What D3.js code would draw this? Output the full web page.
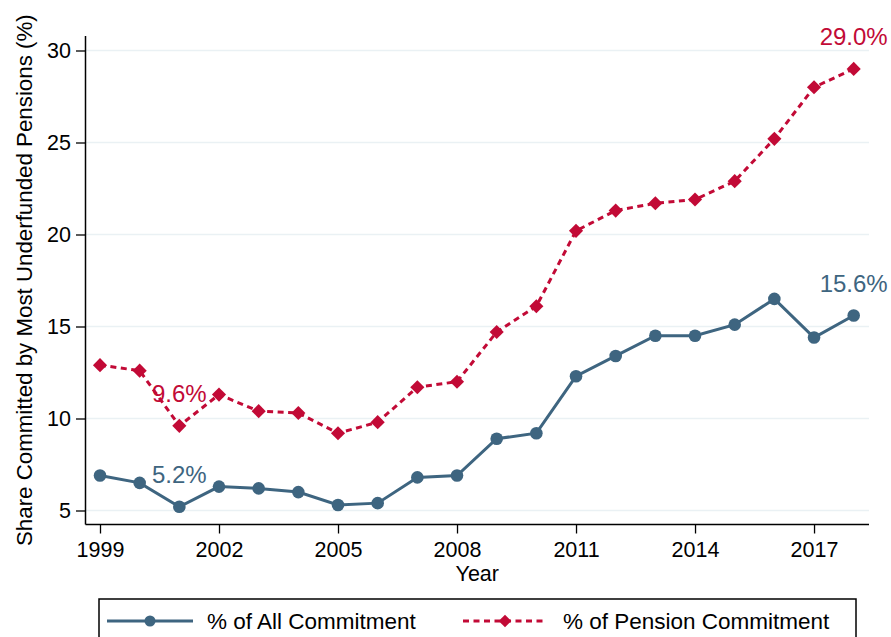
<!DOCTYPE html>
<html>
<head>
<meta charset="utf-8">
<script src="https://cdn.jsdelivr.net/npm/d3@7"></script>
<style>
  body { margin: 0; background: #fff; }
  svg { font-family: "Liberation Sans", Arial, Helvetica, sans-serif; display: block; }
</style>
</head>
<body>
<div id="chart"></div>
<script>
// data
var years = [1999, 2000, 2001, 2002, 2003, 2004, 2005, 2006, 2007, 2008,
             2009, 2010, 2011, 2012, 2013, 2014, 2015, 2016, 2017, 2018];
var allCommit = [6.9, 6.5, 5.2, 6.3, 6.2, 6.0, 5.3, 5.4, 6.8, 6.9,
                 8.9, 9.2, 12.3, 13.4, 14.5, 14.5, 15.1, 16.5, 14.4, 15.6];
var pensionCommit = [12.9, 12.6, 9.6, 11.3, 10.4, 10.3, 9.2, 9.8, 11.7, 12.0,
                     14.7, 16.1, 20.2, 21.3, 21.7, 21.9, 22.9, 25.2, 28.0, 29.0];
var labelYears = [2001, 2018];
var xTicks = [1999, 2002, 2005, 2008, 2011, 2014, 2017];
var yTicks = [5, 10, 15, 20, 25, 30];
var seriesNames = ["% of All Commitment", "% of Pension Commitment"];

var blue = "#3e6580";
var red = "#c20a36";

var svgWidth = 891;
var svgHeight = 637;

// plot region
var plotLeft = 85.5, plotRight = 869, plotTop = 36, plotBottom = 524.5;

var svg = d3.select("#chart")
  .append("svg")
  .attr("width", svgWidth)
  .attr("height", svgHeight);

var x = d3.scaleLinear()
  .domain([1999, 2018])
  .range([100, 853.7]);

var y = d3.scaleLinear()
  .domain([5, 30])
  .range([510.5, 50.5]);

// gridlines
svg.append("g")
  .selectAll("line")
  .data(yTicks)
  .enter()
  .append("line")
  .attr("x1", plotLeft)
  .attr("x2", plotRight)
  .attr("y1", d => y(d))
  .attr("y2", d => y(d))
  .attr("stroke", "#eaf1f4")
  .attr("stroke-width", 1.5);

// axes
var leftAxis = d3.axisLeft(y)
  .tickValues(yTicks)
  .tickSize(9)
  .tickPadding(5);

var yAxisG = svg.append("g")
  .attr("transform", `translate(${plotLeft - 0.5}, 0)`)
  .call(leftAxis);
yAxisG.select(".domain").remove();
yAxisG.selectAll("line").attr("stroke", "#000").attr("stroke-width", 1.3);
yAxisG.selectAll("text")
  .attr("font-size", "21.5px")
  .attr("fill", "#000")
  .attr("font-family", "Liberation Sans, Arial, sans-serif");

var bottomAxis = d3.axisBottom(x)
  .tickValues(xTicks)
  .tickFormat(d3.format("d"))
  .tickSize(9);

var xAxisG = svg.append("g")
  .attr("transform", `translate(0, ${plotBottom})`)
  .call(bottomAxis);
xAxisG.select(".domain").remove();
xAxisG.selectAll("line").attr("stroke", "#000").attr("stroke-width", 1.3);
xAxisG.selectAll("text")
  .attr("y", 32)
  .attr("dy", 0)
  .attr("font-size", "21.5px")
  .attr("fill", "#000")
  .attr("font-family", "Liberation Sans, Arial, sans-serif");

// axis lines
svg.append("line")
  .attr("x1", plotLeft).attr("x2", plotLeft)
  .attr("y1", plotTop).attr("y2", plotBottom)
  .attr("stroke", "#000").attr("stroke-width", 1.5);
svg.append("line")
  .attr("x1", plotLeft).attr("x2", plotRight)
  .attr("y1", plotBottom).attr("y2", plotBottom)
  .attr("stroke", "#000").attr("stroke-width", 1.5);

// axis titles
svg.append("text")
  .attr("transform", "translate(32, 546) rotate(-90)")
  .attr("font-size", "22.3px")
  .text("Share Committed by Most Underfunded Pensions (%)");

svg.append("text")
  .attr("x", (plotLeft + plotRight) / 2)
  .attr("y", 580.5)
  .attr("text-anchor", "middle")
  .attr("font-size", "21.5px")
  .text("Year");

var allData = years.map((yr, i) => ({ year: yr, value: allCommit[i] }));
var pensionData = years.map((yr, i) => ({ year: yr, value: pensionCommit[i] }));

var line = d3.line()
  .x(d => x(d.year))
  .y(d => y(d.value));

// pension series (dashed, diamonds)
svg.append("path")
  .datum(pensionData)
  .attr("d", line)
  .attr("fill", "none")
  .attr("stroke", red)
  .attr("stroke-width", 3)
  .attr("stroke-dasharray", "6,4.5");

var diamond = d3.symbol().type(d3.symbolSquare).size(100);
svg.append("g")
  .selectAll("path")
  .data(pensionData)
  .enter()
  .append("path")
  .attr("d", diamond)
  .attr("transform", d => `translate(${x(d.year)}, ${y(d.value)}) rotate(45)`)
  .attr("fill", red);

// all commitment series (solid, circles)
svg.append("path")
  .datum(allData)
  .attr("d", line)
  .attr("fill", "none")
  .attr("stroke", blue)
  .attr("stroke-width", 3);

svg.append("g")
  .selectAll("circle")
  .data(allData)
  .enter()
  .append("circle")
  .attr("cx", d => x(d.year))
  .attr("cy", d => y(d.value))
  .attr("r", 6.3)
  .attr("fill", blue);

// value labels above selected points
var fmt = d => d3.format(".1f")(d) + "%";
[[allData, blue], [pensionData, red]].forEach(function(s) {
  svg.append("g")
    .selectAll("text")
    .data(s[0].filter(d => labelYears.indexOf(d.year) >= 0))
    .enter()
    .append("text")
    .attr("x", d => x(d.year))
    .attr("y", d => y(d.value) - 23.5)
    .attr("text-anchor", "middle")
    .attr("font-size", "24px")
    .attr("fill", s[1])
    .text(d => fmt(d.value));
});

// legend
var legend = svg.append("g");
legend.append("rect")
  .attr("x", 99)
  .attr("y", 599)
  .attr("width", 757)
  .attr("height", 60)
  .attr("fill", "#fff")
  .attr("stroke", "#000")
  .attr("stroke-width", 1.5);

var ly = 621;
legend.append("line")
  .attr("x1", 107).attr("x2", 193)
  .attr("y1", ly).attr("y2", ly)
  .attr("stroke", blue).attr("stroke-width", 3);
legend.append("circle")
  .attr("cx", 150).attr("cy", ly).attr("r", 5.5)
  .attr("fill", blue);
legend.append("text")
  .attr("x", 207).attr("y", ly + 8)
  .attr("font-size", "22.5px")
  .text(seriesNames[0]);

legend.append("line")
  .attr("x1", 463).attr("x2", 547)
  .attr("y1", ly).attr("y2", ly)
  .attr("stroke", red).attr("stroke-width", 3)
  .attr("stroke-dasharray", "6,4.5");
legend.append("path")
  .attr("d", d3.symbol().type(d3.symbolSquare).size(80))
  .attr("transform", `translate(505, ${ly}) rotate(45)`)
  .attr("fill", red);
legend.append("text")
  .attr("x", 563).attr("y", ly + 8)
  .attr("font-size", "22.5px")
  .text(seriesNames[1]);
</script>
</body>
</html>
